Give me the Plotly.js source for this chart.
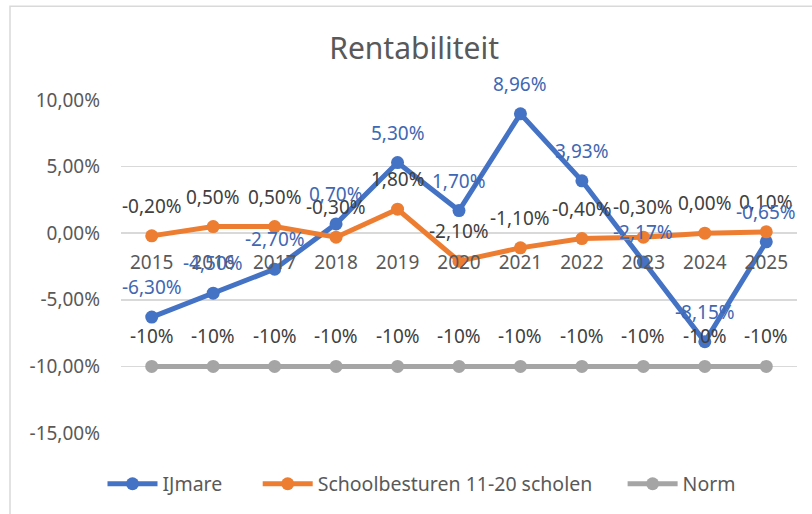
<!DOCTYPE html>
<html>
<head>
<meta charset="utf-8">
<script src="https://cdn.plot.ly/plotly-3.0.1.min.js"></script>
<style>html,body{margin:0;padding:0;background:#fff;}#chart{width:812px;height:514px;}</style>
</head>
<body>
<div id="chart"></div>
<script>
const years = ['2015','2016','2017','2018','2019','2020','2021','2022','2023','2024','2025'];
const ijmare = [-6.30, -4.50, -2.70, 0.70, 5.30, 1.70, 8.96, 3.93, -2.17, -8.15, -0.65];
const schoolbesturen = [-0.20, 0.50, 0.50, -0.30, 1.80, -2.10, -1.10, -0.40, -0.30, 0.00, 0.10];
const norm = [-10, -10, -10, -10, -10, -10, -10, -10, -10, -10, -10];
const yTickVals = [-15, -10, -5, 0, 5, 10];
const yTickText = ['-15,00%', '-10,00%', '-5,00%', '0,00%', '5,00%', '10,00%'];
const seriesNames = ['IJmare', 'Schoolbesturen 11-20 scholen', 'Norm'];

const FONT = 'Noto Sans, Open Sans, sans-serif';
const fmt2 = v => v.toFixed(2).replace('.', ',') + '%';
const fmt0 = v => v.toFixed(0) + '%';
const xs = years.map((_, i) => i);
const pad = n => '\u00a0'.repeat(n);

function series(name, vals, color) {
  return {
    type: 'scatter', mode: 'lines+markers', name: name,
    x: xs, y: vals,
    line: {color: color, width: 5},
    marker: {color: color, size: 13},
    hoverinfo: 'skip'
  };
}

const traces = [
  series(seriesNames[0] + pad(6), ijmare, '#4472C4'),
  series(seriesNames[1] + pad(5), schoolbesturen, '#ED7D31'),
  series(seriesNames[2], norm, '#A5A5A5')
];

function labels(vals, color, f) {
  return vals.map((v, i) => ({
    x: xs[i], y: v, xref: 'x', yref: 'y', text: f(v), showarrow: false,
    yshift: 30, font: {family: FONT, size: 19, color: color}
  }));
}

const annotations = [].concat(
  labels(norm, '#404040', fmt0),
  labels(schoolbesturen, '#404040', fmt2),
  labels(ijmare, '#4067B3', fmt2)
);

const layout = {
  width: 812, height: 514,
  margin: {l: 121, r: 15, t: 100, b: 80},
  paper_bgcolor: '#fff', plot_bgcolor: '#fff',
  font: {family: FONT, size: 19, color: '#595959'},
  title: {text: 'Rentabiliteit', font: {family: FONT, size: 30, color: '#595959'},
          x: 0.51, xanchor: 'center', y: 1 - 48/514, yanchor: 'middle', yref: 'container'},
  showlegend: true,
  legend: {orientation: 'h', x: (422 - 121) / 676, xanchor: 'center', y: -0.15, yanchor: 'middle',
           font: {family: FONT, size: 19.5, color: '#595959'}, itemwidth: 50, traceorder: 'normal'},
  xaxis: {
    type: 'linear', range: [-0.5, 10.5], tickvals: xs, ticktext: years,
    anchor: 'free', position: 0.6, showgrid: false, zeroline: false, showline: false,
    ticks: '', ticklabelstandoff: 16, tickfont: {family: FONT, size: 19, color: '#595959'}
  },
  yaxis: {
    range: [-15, 10], tickvals: yTickVals, ticktext: yTickText,
    showgrid: true, gridcolor: '#D9D9D9', gridwidth: 1.5, zeroline: false, showline: false,
    ticks: '', ticklabelstandoff: 20, tickfont: {family: FONT, size: 19, color: '#595959'}
  },
  shapes: [{
    type: 'rect', xref: 'paper', yref: 'paper',
    x0: (10 - 121) / 676, x1: (830 - 121) / 676,
    y0: (434 - 6) / 334, y1: (434 - 530) / 334,
    line: {color: '#D9D9D9', width: 1.5}, fillcolor: 'rgba(0,0,0,0)', layer: 'below'
  }],
  annotations: annotations
};

Plotly.newPlot('chart', traces, layout, {displayModeBar: false, staticPlot: true});
</script>
</body>
</html>
